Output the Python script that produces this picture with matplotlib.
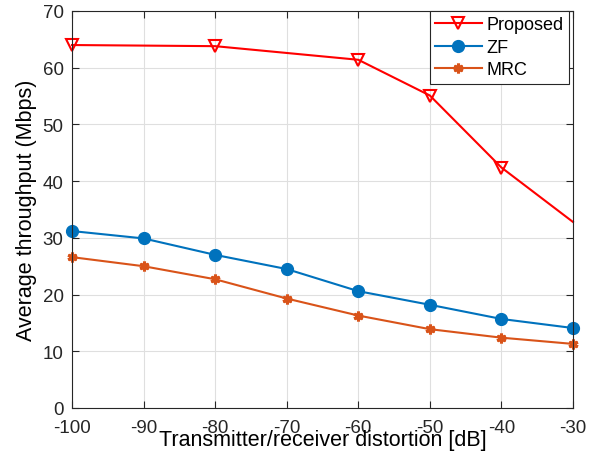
import numpy as np
import matplotlib.pyplot as plt

plt.rcParams['font.family'] = ['Liberation Sans', 'DejaVu Sans']
plt.rcParams['axes.unicode_minus'] = False

# Throughput vs. transceiver distortion
distortion = [-100, -90, -80, -70, -60, -50, -40, -30]
proposed_x = [-100, -80, -60, -50, -40, -30]
proposed = [64.0, 63.8, 61.4, 55.1, 42.4, 32.8]
zf = [31.2, 29.9, 27.0, 24.5, 20.6, 18.2, 15.7, 14.1]
mrc = [26.6, 25.0, 22.7, 19.3, 16.3, 13.9, 12.4, 11.3]

fig = plt.figure(figsize=(5.97, 4.6), dpi=100)
ax = fig.add_axes([72 / 597, 51 / 460, 501 / 597, 397 / 460])

ax.plot(proposed_x, proposed, color='#FF0000', lw=1.5, marker='v', ms=9,
        mfc='none', mew=1.5, markevery=[0, 1, 2, 3, 4], label='Proposed', clip_on=False)
ax.plot(distortion, zf, color='#0072BD', lw=1.5, marker='o', ms=8.5,
        label='ZF', clip_on=False)
ax.plot(distortion, mrc, color='#D95319', lw=1.5, marker=(6, 2, 0), ms=7,
        mew=2.2, label='MRC', clip_on=False)

ax.set_xlim(-100, -30)
ax.set_ylim(0, 70)
ax.set_xticks(np.arange(-100, -29, 10))
ax.set_yticks(np.arange(0, 71, 10))
ax.grid(True, color='#DFDFDF', lw=0.8)
ax.set_axisbelow(True)
ax.tick_params(direction='in', top=True, right=True, labelsize=13.5,
               colors='#262626', length=5)
ax.tick_params(axis='x', pad=8)
ax.tick_params(axis='y', pad=6)
for s in ax.spines.values():
    s.set_color('#262626')
    s.set_linewidth(0.8)

ax.set_xlabel('Transmitter/receiver distortion [dB]', fontsize=15.5, labelpad=-5)
ax.set_ylabel('Average throughput (Mbps)', fontsize=15.5, labelpad=4)

leg = ax.legend(loc='upper right', bbox_to_anchor=(497 / 501, 1.0), borderaxespad=0,
                fontsize=13, fancybox=False, framealpha=1, edgecolor='#262626',
                handlelength=2.6, labelspacing=0.3, handletextpad=0.25, borderpad=0.3)
leg.get_frame().set_linewidth(0.8)

fig.savefig('out.png', dpi=100)
